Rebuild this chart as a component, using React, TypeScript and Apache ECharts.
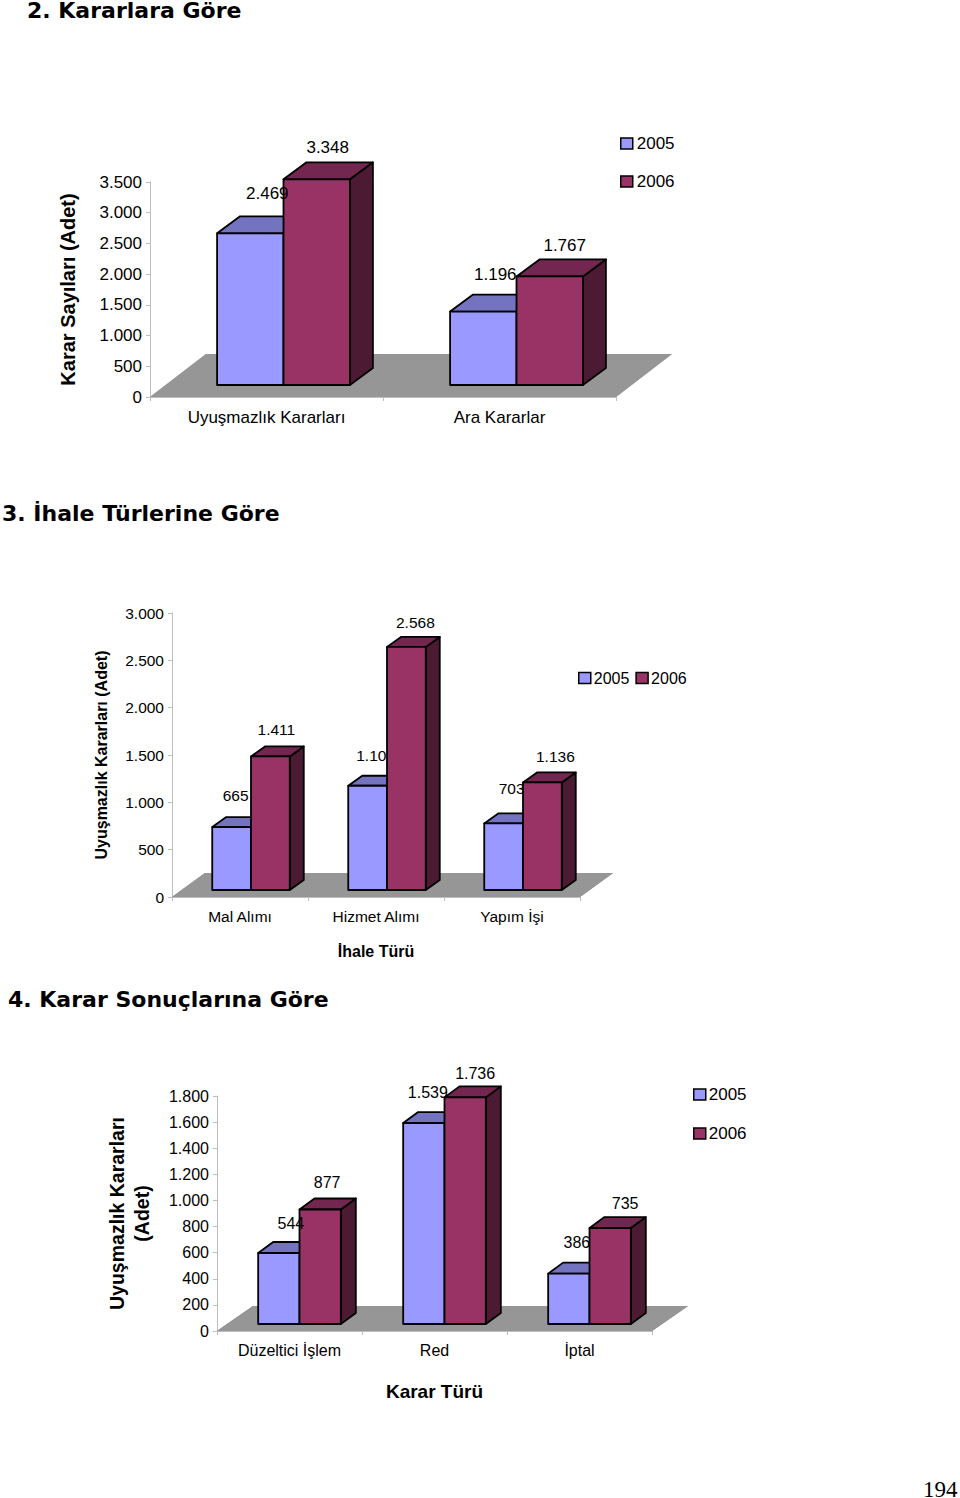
import React, { useEffect, useRef } from "react";
import * as echarts from "echarts";

const SANS = "'Liberation Sans', Arial, sans-serif";
const BLACK = "#000000";

const seriesNames = ["2005", "2006"];

const decisionCategories = ["Uyuşmazlık Kararları", "Ara Kararlar"];
const decisions2005 = [2469, 1196];
const decisions2006 = [3348, 1767];
const decisionTicks = { max: 3500, interval: 500 };

const tenderCategories = ["Mal Alımı", "Hizmet Alımı", "Yapım İşi"];
const tender2005 = [665, 1101, 703];
const tender2006 = [1411, 2568, 1136];
const tenderTicks = { max: 3000, interval: 500 };

const outcomeCategories = ["Düzeltici İşlem", "Red", "İptal"];
const outcome2005 = [544, 1539, 386];
const outcome2006 = [877, 1736, 735];
const outcomeTicks = { max: 1800, interval: 200 };

const headings = [
  { text: "2. Kararlara Göre", x: 27, y: 10 },
  { text: "3. İhale Türlerine Göre", x: 2, y: 513 },
  { text: "4. Karar Sonuçlarına Göre", x: 8, y: 999 },
];

const palette = [
  { front: "#9999FF", top: "#7373BF", side: "#4D4D80" },
  { front: "#993366", top: "#732650", side: "#4D1A33" },
];

const fmt = (v: number) => String(v).replace(/\B(?=(\d{3})+(?!\d))/g, ".");

type Layout = {
  grid: { left: number; top: number; width: number; height: number };
  floor: [number, number];
  depth: [number, number];
  barRatio: number;
  shiftX: number;
  liftY: number;
  fontSize: number;
  labelShift: [number, number][][];
  labelOver: boolean[];
};

const makeFloor = (l: Layout) => (params: any, api: any) => {
  const o = api.coord([0, 0]);
  const band = api.size([1, 0])[0];
  const n = params.dataInsideLength;
  const left = o[0] - band / 2;
  const right = left + band * n;
  const y = o[1];
  return {
    type: "polygon",
    shape: {
      points: [
        [left, y],
        [right, y],
        [right + l.floor[0], y - l.floor[1]],
        [left + l.floor[0], y - l.floor[1]],
      ],
    },
    style: { fill: "#969696" },
  };
};

const makeBars = (l: Layout, which: number) => (_p: any, api: any) => {
  const cat = api.value(0);
  const val = api.value(1);
  const topPt = api.coord([cat, val]);
  const basePt = api.coord([cat, 0]);
  const w = api.size([1, 0])[0] * l.barRatio;
  const x0 = basePt[0] + l.shiftX + (which - 1) * w;
  const x1 = x0 + w;
  const yb = basePt[1] - l.liftY;
  const yt = topPt[1] - l.liftY;
  const [dx, dy] = l.depth;
  const c = palette[which];
  const edge = { stroke: BLACK, lineWidth: 1.8, lineJoin: "round" };
  const shift = l.labelShift[which][cat];
  const over = which === 1 || l.labelOver[cat];
  return {
    type: "group",
    children: [
      { type: "polygon", z2: 1, shape: { points: [[x1, yb], [x1 + dx, yb - dy], [x1 + dx, yt - dy], [x1, yt]] }, style: { fill: c.side, ...edge } },
      { type: "polygon", z2: 1, shape: { points: [[x0, yt], [x0 + dx, yt - dy], [x1 + dx, yt - dy], [x1, yt]] }, style: { fill: c.top, ...edge } },
      { type: "polygon", z2: 1, shape: { points: [[x0, yb], [x1, yb], [x1, yt], [x0, yt]] }, style: { fill: c.front, ...edge } },
      {
        type: "text",
        z2: over ? 5 : 0,
        style: {
          text: fmt(val),
          x: (x0 + x1) / 2 + shift[0],
          y: yt + shift[1],
          align: "center",
          verticalAlign: "middle",
          fill: BLACK,
          font: `${l.fontSize}px ${SANS}`,
        },
      },
    ],
  };
};

const pairs = (vals: number[]) => vals.map((v, i) => [i, v]);

function buildPanel(
  index: number,
  l: Layout,
  categories: string[],
  a: number[],
  b: number[],
  ticks: { max: number; interval: number },
  yName: string,
  yNameSize: number,
  yNameGap: number,
  xName: string,
  xNameSize: number,
  xNameGap: number,
  labelMargin: number
) {
  const axisLine = { show: true, lineStyle: { color: "#BEBEBE", width: 1 } };
  const axisTick = { show: true, length: 4, lineStyle: { color: "#BEBEBE", width: 1 } };
  const label = { color: BLACK, fontFamily: SANS, fontSize: l.fontSize };
  const base = { coordinateSystem: "cartesian2d", xAxisIndex: index, yAxisIndex: index, encode: { x: 0, y: 1 }, silent: true };
  return {
    grid: { ...l.grid, containLabel: false },
    xAxis: {
      type: "category",
      gridIndex: index,
      data: categories,
      axisLine,
      axisTick,
      axisLabel: { ...label, margin: labelMargin, interval: 0 },
      name: xName,
      nameLocation: "middle",
      nameGap: xNameGap,
      nameTextStyle: { color: BLACK, fontFamily: SANS, fontSize: xNameSize, fontWeight: "bold" },
    },
    yAxis: {
      type: "value",
      gridIndex: index,
      min: 0,
      max: ticks.max,
      interval: ticks.interval,
      axisLine,
      axisTick,
      splitLine: { show: false },
      axisLabel: { ...label, margin: 8, formatter: (v: number) => fmt(v) },
      name: yName,
      nameLocation: "middle",
      nameRotate: 90,
      nameGap: yNameGap,
      nameTextStyle: { color: BLACK, fontFamily: SANS, fontSize: yNameSize, fontWeight: "bold", lineHeight: yNameSize + 6, align: "center" },
    },
    series: [
      { ...base, type: "custom", z: 1, name: "floor" + index, data: pairs(a), renderItem: makeFloor(l) },
      { ...base, type: "custom", z: 2, name: seriesNames[0], color: palette[0].front, itemStyle: { color: palette[0].front }, data: pairs(a), renderItem: makeBars(l, 0) },
      { ...base, type: "custom", z: 2, name: seriesNames[1], color: palette[1].front, itemStyle: { color: palette[1].front }, data: pairs(b), renderItem: makeBars(l, 1) },
    ],
  };
}

const layoutDecisions: Layout = {
  grid: { left: 150, top: 182, width: 466, height: 215 },
  floor: [56, 43],
  depth: [23, 17],
  barRatio: 0.285,
  shiftX: 17,
  liftY: 12,
  fontSize: 17,
  labelShift: [
    [[17, -40], [12, -37]],
    [[11, -32], [15, -31]],
  ],
  labelOver: [true, false],
};

const layoutTender: Layout = {
  grid: { left: 172, top: 613, width: 408, height: 284 },
  floor: [33, 24],
  depth: [14, 10],
  barRatio: 0.285,
  shiftX: 11,
  liftY: 7,
  fontSize: 15.5,
  labelShift: [
    [[4, -32], [8, -30], [8, -35]],
    [[6, -27], [9, -24], [13, -26]],
  ],
  labelOver: [false, false, false],
};

const layoutOutcome: Layout = {
  grid: { left: 217, top: 1096, width: 435, height: 235 },
  floor: [36, 25],
  depth: [15, 11],
  barRatio: 0.285,
  shiftX: 10,
  liftY: 7,
  fontSize: 16,
  labelShift: [
    [[12, -29], [4, -31], [8, -31]],
    [[7, -27], [10, -24], [15, -25]],
  ],
  labelOver: [true, false, false],
};

export default function App() {
  const ref = useRef<HTMLDivElement>(null);
  useEffect(() => {
    if (!ref.current) return;
    const chart = echarts.init(ref.current, null, { renderer: "svg", width: 960, height: 1498 });
    const panels = [
      buildPanel(0, layoutDecisions, decisionCategories, decisions2005, decisions2006, decisionTicks, "Karar Sayıları (Adet)", 20, 69, "", 12, 30, 12),
      buildPanel(1, layoutTender, tenderCategories, tender2005, tender2006, tenderTicks, "Uyuşmazlık Kararları (Adet)", 16, 60, "İhale Türü", 16, 46, 11),
      buildPanel(2, layoutOutcome, outcomeCategories, outcome2005, outcome2006, outcomeTicks, "Uyuşmazlık Kararları\n(Adet)", 19.5, 62, "Karar Türü", 19, 51, 11),
    ];
    const legendBase = {
      data: seriesNames,
      icon: "rect",
      itemWidth: 12,
      itemHeight: 11,
      selectedMode: false,
      itemStyle: { borderColor: BLACK, borderWidth: 1.5 },
      padding: 0,
    };
    chart.setOption({
      animation: false,
      backgroundColor: "#FFFFFF",
      grid: panels.map((p) => p.grid),
      xAxis: panels.map((p) => p.xAxis),
      yAxis: panels.map((p) => p.yAxis),
      series: panels.flatMap((p) => p.series),
      legend: [
        { ...legendBase, orient: "vertical", left: 620, top: 135, itemGap: 21, textStyle: { color: BLACK, fontFamily: SANS, fontSize: 17, padding: [0, 0, 0, -1] } },
        { ...legendBase, orient: "horizontal", left: 578, top: 670, itemGap: 6, textStyle: { color: BLACK, fontFamily: SANS, fontSize: 16, padding: [0, 0, 0, -2] } },
        { ...legendBase, orient: "vertical", left: 693, top: 1086, itemGap: 22, textStyle: { color: BLACK, fontFamily: SANS, fontSize: 17, padding: [0, 0, 0, -2] } },
      ],
      graphic: [
        ...headings.map((h) => ({
          type: "text",
          style: { text: h.text, x: h.x, y: h.y, verticalAlign: "middle", fill: BLACK, font: "bold 22px 'DejaVu Sans', Verdana, sans-serif" },
        })),
        { type: "text", style: { text: "194", x: 923, y: 1489, verticalAlign: "middle", fill: BLACK, font: "23px 'Liberation Serif', 'Times New Roman', serif" } },
      ],
    });
    return () => chart.dispose();
  }, []);
  return <div ref={ref} style={{ position: "absolute", left: 0, top: 0, width: 960, height: 1498 }} />;
}
